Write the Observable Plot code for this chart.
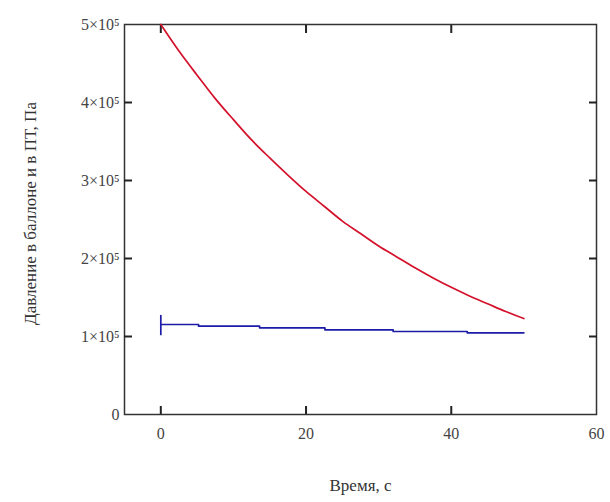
<!DOCTYPE html>
<html>
<head>
<meta charset="utf-8">
<script src="https://cdn.jsdelivr.net/npm/d3@7"></script>
<script src="https://cdn.jsdelivr.net/npm/@observablehq/plot@0.6"></script>
<style>
  html, body { margin: 0; padding: 0; background: #fff; }
</style>
</head>
<body>
<div id="chart"></div>
<script>
// Balloon pressure (red), Pa
const redTime = [0, 2.5, 5, 7.5, 10, 12.5, 15, 17.5, 20, 22.5, 25, 27.5, 30, 32.5, 35, 37.5, 40, 42.5, 45, 47.5, 50];
const redPressure = [500000, 466000, 435000, 405000, 378000, 352000, 329000, 307000, 286000, 267000, 248000, 232000, 216000, 202000, 188000, 175000, 163000, 152000, 142000, 132000, 123000];

// Pressure in ПТ (blue), stepped, Pa
const blueTime = [0, 5.2, 13.6, 22.6, 32.0, 42.2, 50];
const bluePressure = [115400, 113200, 111100, 108600, 106400, 104700, 104700];
// initial spike at t = 0
const spikeTime = [0];
const spikeLow = [101000];
const spikeHigh = [127000];

const xTicks = [0, 20, 40, 60];
const yTicks = [0, 100000, 200000, 300000, 400000, 500000];
const yTickLabels = ["0", "1×10⁵", "2×10⁵", "3×10⁵", "4×10⁵", "5×10⁵"];
const xLabel = "Время, с";
const yLabel = "Давление в баллоне и в ПТ, Па";

const red = redTime.map((t, i) => ({t, p: redPressure[i]}));
const blue = blueTime.map((t, i) => ({t, p: bluePressure[i]}));
const spike = spikeTime.map((t, i) => ({t, lo: spikeLow[i], hi: spikeHigh[i]}));

const innerTicksY = yTicks.filter(v => v > 0 && v < 500000);
const innerTicksX = xTicks.filter(v => v < 60);
const fmtY = v => yTickLabels[yTicks.indexOf(v)];

const W = 610, H = 502, ML = 124, MR = 14, MT = 24, MB = 88;
const TL = 8; // inward tick length
const axisColor = "#333";

// inward ticks: outward axis ticks shifted inward by their own length
const tickMarks = [
  Plot.axisX(innerTicksX, {anchor: "top", tickSize: TL, dy: TL, tickFormat: () => "", stroke: "#222", strokeWidth: 2, label: null}),
  Plot.axisX(innerTicksX, {anchor: "bottom", tickSize: TL, dy: -TL, tickFormat: () => "", stroke: "#222", strokeWidth: 2, label: null}),
  Plot.axisY(innerTicksY, {anchor: "left", tickSize: TL, dx: TL, tickFormat: () => "", stroke: "#222", strokeWidth: 2, label: null}),
  Plot.axisY(innerTicksY, {anchor: "right", tickSize: TL, dx: -TL, tickFormat: () => "", stroke: "#222", strokeWidth: 2, label: null})
];

const chart = Plot.plot({
  width: W,
  height: H,
  marginLeft: ML,
  marginRight: MR,
  marginTop: MT,
  marginBottom: MB,
  style: {fontFamily: "'Liberation Serif', 'Times New Roman', serif", background: "#fff"},
  x: {domain: [-5, 60], ticks: xTicks, label: null},
  y: {domain: [0, 500000], ticks: yTicks, label: null},
  marks: [
    Plot.frame({stroke: axisColor, fill: "none", strokeWidth: 1.5}),
    ...tickMarks,
    // tick labels
    Plot.axisX(xTicks, {anchor: "bottom", tickSize: 0, tickPadding: 13, fontSize: 16, fill: "#444", label: null}),
    Plot.axisY(yTicks, {anchor: "left", tickSize: 0, tickPadding: 5, fontSize: 16, fill: "#444", tickFormat: fmtY, label: null}),
    // data
    Plot.line(red, {x: "t", y: "p", stroke: "#d4112b", strokeWidth: 1.7, curve: "catmull-rom"}),
    Plot.line(blue, {x: "t", y: "p", stroke: "#1c1ca8", strokeWidth: 1.7, curve: "step-after"}),
    Plot.ruleX(spike, {x: "t", y1: "lo", y2: "hi", stroke: "#1c1ca8", strokeWidth: 1.7}),
    // axis titles
    Plot.text([xLabel], {frameAnchor: "bottom", textAnchor: "middle", dy: 76, fontSize: 17, fill: "#333"}),
    Plot.text([yLabel], {frameAnchor: "left", textAnchor: "middle", dx: -94, dy: -6, rotate: -90, fontSize: 17, fill: "#333"})
  ]
});
document.getElementById("chart").appendChild(chart);
</script>
</body>
</html>
